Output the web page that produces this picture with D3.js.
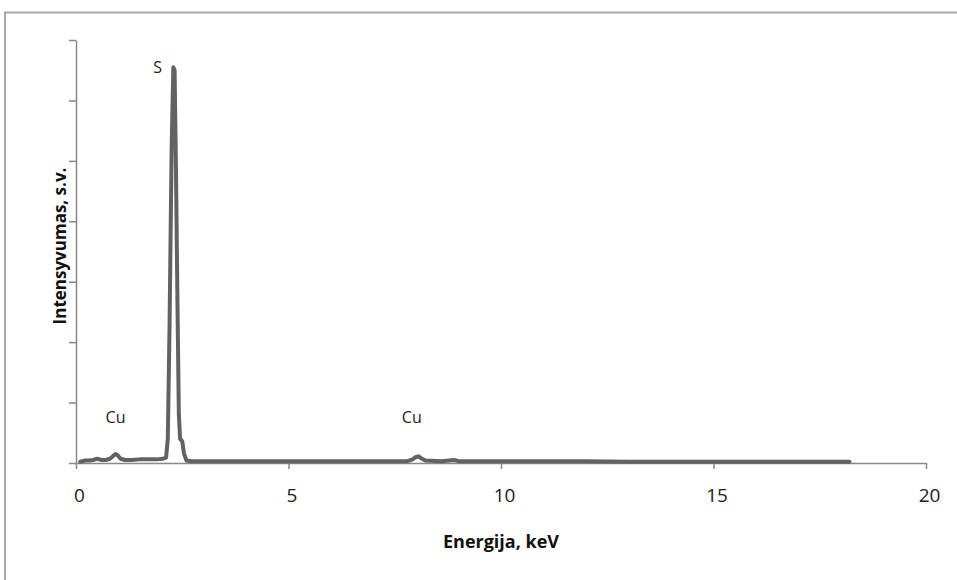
<!DOCTYPE html>
<html><head><meta charset="utf-8">
<script src="https://cdn.jsdelivr.net/npm/d3@7"></script>
<style>html,body{margin:0;padding:0;background:#fff;}svg{display:block;}</style>
</head><body>
<svg id="c" width="957" height="580"></svg>
<script>
// Energy (keV) and intensity (arb. units)
const energy = [0.10,0.20,0.30,0.40,0.50,0.60,0.70,0.80,0.88,0.93,0.98,1.05,1.15,1.30,1.50,1.70,1.90,2.05,2.12,2.16,2.20,2.25,2.29,2.32,2.35,2.39,2.42,2.45,2.50,2.54,2.60,2.70,3.00,3.50,4.00,5.00,6.00,7.00,7.80,7.92,8.00,8.06,8.12,8.22,8.60,8.90,9.00,9.20,10.0,11.0,12.0,13.0,14.0,15.0,16.0,17.0,18.2];
const intensity = [0.02,0.04,0.04,0.05,0.07,0.05,0.05,0.07,0.12,0.15,0.13,0.07,0.05,0.05,0.06,0.06,0.06,0.07,0.09,0.40,2.20,5.20,6.55,6.50,5.00,2.50,0.80,0.40,0.36,0.16,0.04,0.03,0.03,0.03,0.03,0.03,0.03,0.03,0.03,0.06,0.10,0.11,0.08,0.04,0.03,0.05,0.03,0.03,0.03,0.03,0.03,0.02,0.02,0.02,0.02,0.02,0.02];
const xTicks = [0,5,10,15,20];
const yTicks = [0,1,2,3,4,5,6,7];
const peakLabels = [{t:"S",e:1.92,v:6.45},{t:"Cu",e:0.93,v:0.67},{t:"Cu",e:7.9,v:0.67}];
const xTitle = "Energija, keV";
const yTitle = "Intensyvumas, s.v.";

const svg = d3.select("#c");
const font = "'Open Sans', 'Liberation Sans', sans-serif";
// outer frame
svg.append("rect").attr("x",5).attr("y",12.5).attr("width",1000).attr("height",1000)
  .attr("fill","none").attr("stroke","#a6a6a6").attr("stroke-width",2);

const x = d3.scaleLinear().domain([0,20]).range([76,926]);
const y = d3.scaleLinear().domain([0,7]).range([463,40]);

const gx = svg.append("g").attr("transform","translate(0,463)")
  .call(d3.axisBottom(x).tickValues(xTicks).tickSize(6).tickSizeOuter(0).tickPadding(20));
const gy = svg.append("g").attr("transform","translate(76,0)")
  .call(d3.axisLeft(y).tickValues(yTicks).tickSize(7).tickSizeOuter(0).tickFormat(""));
[gx,gy].forEach(g=>{
  g.select(".domain").attr("stroke","#888").attr("stroke-width",1.5);
  g.selectAll(".tick line").attr("stroke","#888").attr("stroke-width",1.5);
});
gx.selectAll(".tick text").attr("font-family",font).attr("font-size",19).attr("fill","#222")
  .attr("dx",3);

const data = energy.map((e,i)=>[e,intensity[i]]);
svg.append("path").datum(data)
  .attr("d", d3.line().x(d=>x(d[0])).y(d=>y(d[1])))
  .attr("fill","none").attr("stroke","#626262").attr("stroke-width",4)
  .attr("stroke-linejoin","round").attr("stroke-linecap","round");

svg.selectAll("text.pl").data(peakLabels).enter().append("text")
  .attr("class","pl").attr("x",d=>x(d.e)).attr("y",d=>y(d.v))
  .attr("text-anchor","middle").attr("font-family",font).attr("font-size",16).attr("fill","#222")
  .text(d=>d.t);

svg.append("text").attr("x",501).attr("y",548).attr("text-anchor","middle")
  .attr("font-family",font).attr("font-size",18).attr("font-weight","bold").attr("fill","#111")
  .text(xTitle);
svg.append("text").attr("transform","translate(66,246) rotate(-90)").attr("text-anchor","middle")
  .attr("font-family",font).attr("font-size",17).attr("font-weight","bold").attr("fill","#111")
  .text(yTitle);
</script>
</body></html>
